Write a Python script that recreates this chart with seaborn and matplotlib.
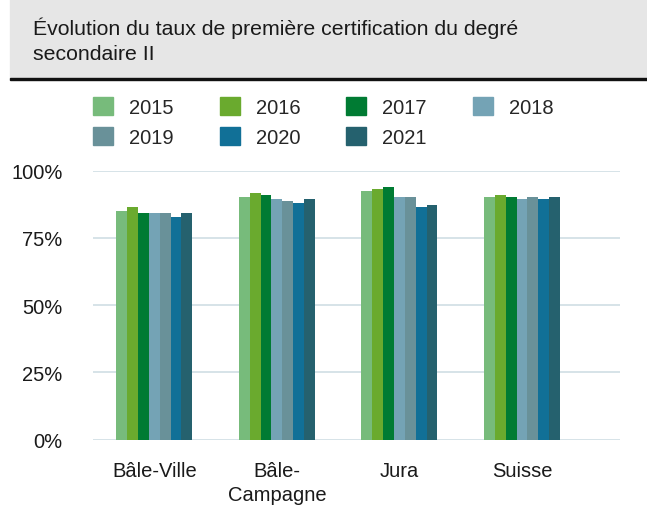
"""
Taux de première certification du degré secondaire II, 2015-2021.
"""
import matplotlib.pyplot as plt
import matplotlib.patches as mpatches
import numpy as np
import pandas as pd
import seaborn as sns

regions = ["Bâle-Ville", "Bâle-\nCampagne", "Jura", "Suisse"]
years = ["2015", "2016", "2017", "2018", "2019", "2020", "2021"]

bale_ville = [84.9, 86.4, 84.2, 84.2, 84.2, 82.7, 84.2]
bale_campagne = [90.1, 91.6, 90.9, 89.3, 88.6, 87.9, 89.3]
jura = [92.3, 93.1, 93.8, 90.1, 90.1, 86.4, 87.1]
suisse = [90.1, 90.9, 90.1, 89.3, 90.1, 89.3, 90.1]

colors = ["#77bb7b", "#6aaa2e", "#007b33", "#74a3b5", "#699199", "#117097", "#25616e"]

title = "Évolution du taux de première certification du degré\nsecondaire II"

# small QR-like badge (decoration only)
qr_rows = [
    "1111111010111111",
    "1000001001100000",
    "1011101110101110",
    "1011101011101110",
    "1000001101100000",
    "1111111010111111",
    "0000000110000000",
    "1101011011010110",
    "0110100101101011",
    "1011011100110101",
    "0000000101011010",
    "1111111011001101",
    "1000001100110110",
    "1011101011011011",
    "1000001110101101",
    "1111111010110110",
]

values = [bale_ville, bale_campagne, jura, suisse]
df = pd.DataFrame(
    [(r, y, v) for r, vals in zip(regions, values) for y, v in zip(years, vals)],
    columns=["region", "year", "value"],
)

sns.set_style("white")
plt.rcParams["font.family"] = ["Liberation Sans", "DejaVu Sans"]

W, H = 647, 506
fig = plt.figure(figsize=(W / 100, H / 100), dpi=100)

# header band
fig.patches.append(mpatches.Rectangle((10 / W, 1 - 79 / H), 1, 79 / H,
                                      transform=fig.transFigure, color="#e6e6e6", zorder=0))
fig.patches.append(mpatches.Rectangle((10 / W, 1 - 81 / H), 1, 2.5 / H,
                                      transform=fig.transFigure, color="#111111", zorder=1))
fig.text(33 / W, 1 - 40.5 / H, title, fontsize=15.3, color="#1a1a1a",
         va="center", ha="left", linespacing=1.4)

qr = np.array([[int(c) for c in row] for row in qr_rows])
qax = fig.add_axes([612 / W, 1 - 49 / H, 37 / W, 37 / H])
qax.imshow(qr, cmap="Greys", interpolation="nearest", aspect="auto")
qax.axis("off")

ax = fig.add_axes([93 / W, 1 - 440.7 / H, 527 / W, 269 / H])
sns.barplot(data=df, x="region", y="value", hue="year", palette=colors,
            width=0.62, gap=0, linewidth=0, saturation=1, ax=ax, legend=False)

ax.set_ylim(0, 100)
ax.set_xlim(-0.5, 3.8)
ax.set_yticks([0, 25, 50, 75, 100])
ax.set_yticklabels(["0%", "25%", "50%", "75%", "100%"])
ax.yaxis.grid(True, color="#d3e0e6", linewidth=1.3)
ax.set_axisbelow(True)
for s in ax.spines.values():
    s.set_visible(False)
ax.tick_params(axis="both", length=0, labelsize=14.5, labelcolor="#1a1a1a")
ax.tick_params(axis="y", pad=22)
ax.tick_params(axis="x", pad=15)
for lbl in ax.get_xticklabels():
    lbl.set_linespacing(1.35)
ax.set_xlabel("")
ax.set_ylabel("")

# legend is filled column by column, so reorder to read row by row
order = [0, 4, 1, 5, 2, 6, 3]
handles = [mpatches.Patch(color=colors[i], label=years[i]) for i in order]
fig.legend(handles=handles, ncol=4, loc="upper left",
           bbox_to_anchor=(93 / W, 1 - 98 / H), frameon=False,
           fontsize=14.5, handlelength=1.0, handleheight=1.0,
           handletextpad=0.8, columnspacing=2.27, labelspacing=0.5,
           borderpad=0, borderaxespad=0)

fig.savefig("out.png", dpi=100)
